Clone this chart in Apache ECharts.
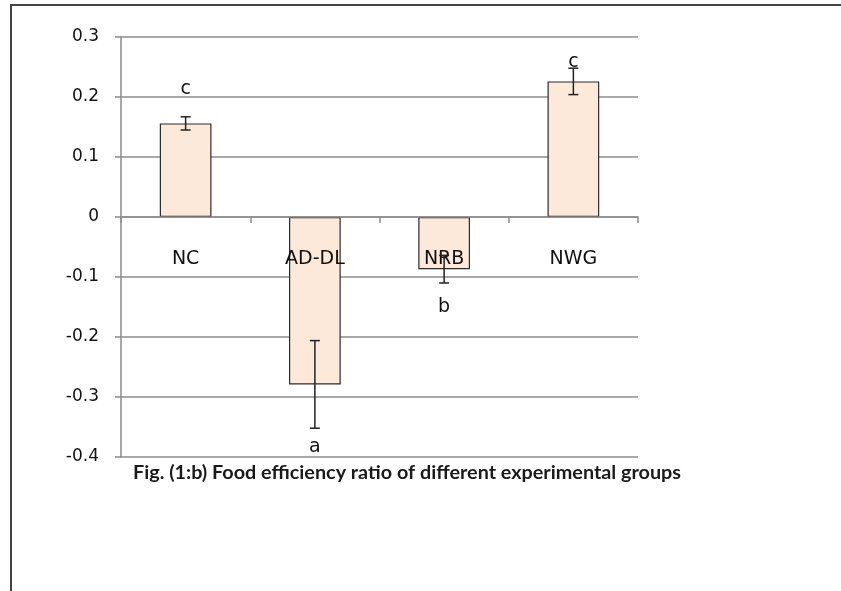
<!DOCTYPE html>
<html>
<head>
<meta charset="utf-8">
<script src="https://cdn.jsdelivr.net/npm/echarts@6/dist/echarts.min.js"></script>
<style>
  html, body { margin: 0; padding: 0; background: #fff; }
  #chart-container { width: 841px; height: 591px; }
</style>
</head>
<body>
<div id="chart-container"></div>
<script>
var categories = ["NC", "AD-DL", "NRB", "NWG"];
var means = [0.156, -0.279, -0.087, 0.226];
var errors = [0.011, 0.073, 0.023, 0.022];
var letters = ["c", "a", "b", "c"];
var letterY = [0.213, -0.383, -0.150, 0.258];
var yTicks = [-0.4, -0.3, -0.2, -0.1, 0, 0.1, 0.2, 0.3];

var dom = document.getElementById("chart-container");
var myChart = echarts.init(dom, null, { renderer: "canvas" });

var errData = means.map(function (m, i) {
  return [i, m - errors[i], m + errors[i]];
});
var letterData = letters.map(function (t, i) {
  return [i, letterY[i], t];
});

var option = {
  animation: false,
  backgroundColor: "#ffffff",
  title: {
    text: "Fig. (1:b) Food efficiency ratio of different experimental groups",
    left: 128,
    top: 458,
    textStyle: {
      fontFamily: "Lato",
      fontWeight: "bold",
      fontSize: 19.8,
      color: "#1a1a1a"
    }
  },
  grid: { left: 121, right: 203, top: 37, bottom: 134 },
  xAxis: {
    type: "category",
    data: categories,
    z: 3,
    axisLine: { onZero: true, lineStyle: { color: "#8c8c8c", width: 1.5 } },
    axisTick: { show: true, length: 6, lineStyle: { color: "#8c8c8c", width: 1.5 } },
    axisLabel: {
      // labels sit just under the zero line, as in the source
      margin: -207,
      fontFamily: "DejaVu Sans",
      fontSize: 19,
      color: "#111"
    },
    splitLine: { show: false }
  },
  yAxis: {
    type: "value",
    min: yTicks[0],
    max: yTicks[yTicks.length - 1],
    interval: 0.1,
    axisLine: { show: true, lineStyle: { color: "#8c8c8c", width: 1.5 } },
    axisTick: { show: true, length: 6, lineStyle: { color: "#8c8c8c", width: 1.5 } },
    axisLabel: {
      margin: 22,
      fontFamily: "DejaVu Sans",
      fontSize: 17,
      color: "#111",
      formatter: function (v) {
        return String(Math.round(v * 10) / 10);
      }
    },
    splitLine: { show: true, lineStyle: { color: "#8c8c8c", width: 1.5 } }
  },
  series: [
    {
      type: "bar",
      data: means,
      barWidth: "40%",
      itemStyle: { color: "#fde9da", borderColor: "#2b2b2b", borderWidth: 1.2 }
    },
    {
      type: "custom",
      data: errData,
      z: 5,
      renderItem: function (params, api) {
        var x = api.coord([api.value(0), 0])[0];
        var lo = api.coord([api.value(0), api.value(1)])[1];
        var hi = api.coord([api.value(0), api.value(2)])[1];
        var half = 5;
        var st = { stroke: "#222", lineWidth: 1.5 };
        return {
          type: "group",
          children: [
            { type: "line", shape: { x1: x, y1: lo, x2: x, y2: hi }, style: st },
            { type: "line", shape: { x1: x - half, y1: lo, x2: x + half, y2: lo }, style: st },
            { type: "line", shape: { x1: x - half, y1: hi, x2: x + half, y2: hi }, style: st }
          ]
        };
      }
    },
    {
      type: "custom",
      data: letterData,
      z: 6,
      renderItem: function (params, api) {
        var p = api.coord([api.value(0), api.value(1)]);
        return {
          type: "text",
          style: {
            text: letters[params.dataIndex],
            x: p[0],
            y: p[1],
            align: "center",
            verticalAlign: "middle",
            font: "19px 'DejaVu Sans'",
            fill: "#111"
          }
        };
      }
    }
  ],
  graphic: [
    { type: "line", shape: { x1: 10, y1: 5, x2: 841, y2: 5 }, style: { stroke: "#444", lineWidth: 2 } },
    { type: "line", shape: { x1: 11, y1: 5, x2: 11, y2: 591 }, style: { stroke: "#444", lineWidth: 2 } }
  ]
};

myChart.setOption(option);
window.addEventListener("resize", myChart.resize);
</script>
</body>
</html>
